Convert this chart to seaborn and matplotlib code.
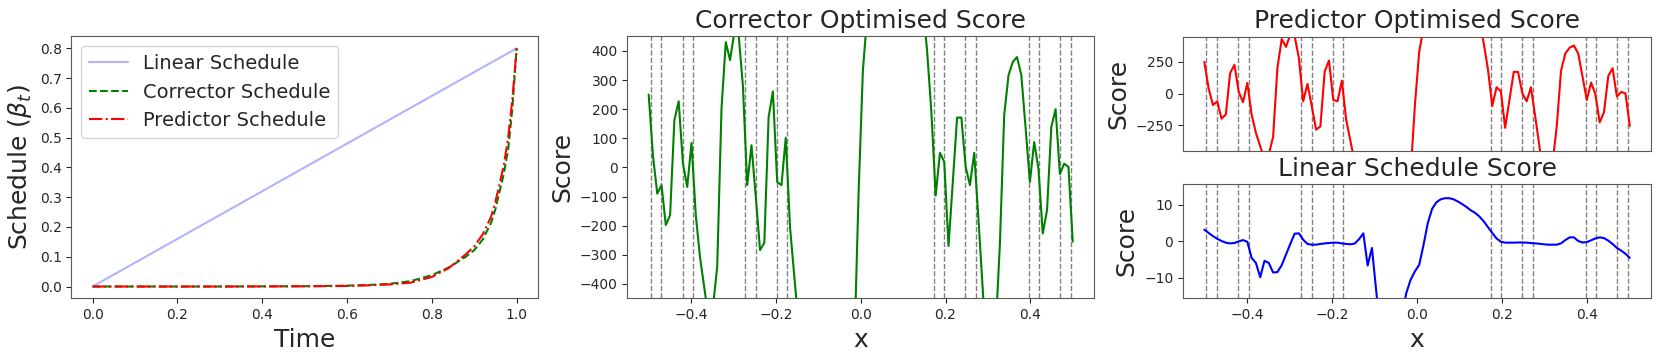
import numpy as np
import matplotlib
matplotlib.use("Agg")
import matplotlib.pyplot as plt
import seaborn as sns

# schedules
sched_time = [0.0, 0.1, 0.2, 0.3, 0.4, 0.5, 0.6, 0.65, 0.7, 0.75, 0.8, 0.84, 0.88,
              0.9, 0.92, 0.94, 0.95, 0.96, 0.97, 0.98, 0.99, 1.0]
corrector_sched = [0.0, 0.0, 0.0, 0.0, 0.0005, 0.001, 0.003, 0.005, 0.009, 0.018, 0.038,
                   0.064, 0.100, 0.122, 0.158, 0.215, 0.26, 0.32, 0.38, 0.46, 0.60, 0.8]
predictor_sched = [0.0, 0.0, 0.0, 0.0, 0.0004, 0.0008, 0.002, 0.004, 0.007, 0.013, 0.032,
                   0.062, 0.108, 0.135, 0.175, 0.235, 0.285, 0.345, 0.41, 0.50, 0.63, 0.8]
linear_time = [0.0, 1.0]
linear_sched = [0.0, 0.8]

# score evaluated on 100 points in [-0.5, 0.5]
xs = np.linspace(-0.5, 0.5, 100)
opt_score = [250, 40, -90, -61, -198, -164, 162, 227, 13, -67,
             84, -165, -310, -415, -520, -480, -341, 202, 430, 368,
             465, 455, 280, -61, 76, -100, -284, -259, 173, 261,
             -50, -61, 102, -205, -375, -540, -700, -850, -980, -1080,
             -1150, -1180, -1170, -1120, -1040, -930, -820, -720, -630, -90,
             330, 520, 700, 850, 980, 1080, 1140, 1160, 1140, 1080,
             1000, 900, 800, 680, 560, 400, 190, -97, 50, 19,
             -270, -50, 171, 171, 2, -61, 50, -181, -421, -670,
             -720, -560, -261, 179, 316, 362, 379, 316, 135, -50,
             87, -5, -227, -147, 139, 200, -23, 13, 2, -255]
corrector_score = opt_score
predictor_score = opt_score
linear_score = [3.2, 2.3, 1.45, 0.7, 0.1, -0.35, -0.55, -0.45, 0.0, 0.35,
                -0.1, -4.5, -5.9, -9.8, -5.3, -5.9, -8.5, -8.4, -6.5, -3.6,
                -0.7, 2.1, 2.2, 0.45, -0.7, -0.9, -0.9, -0.7, -0.55, -0.45,
                -0.35, -0.35, -0.55, -0.7, -0.8, -0.6, 0.6, 2.2, -6.6, -1.8,
                -13.6, -25, -30, -32, -30, -26, -20, -14.1, -10.5, -8.2,
                -6.4, -1.0, 5.0, 8.9, 10.7, 11.5, 11.8, 11.8, 11.5, 10.9,
                10.2, 9.4, 8.5, 7.8, 6.8, 5.5, 3.9, 2.3, 0.8, -0.1,
                -0.35, -0.35, -0.35, -0.3, -0.3, -0.35, -0.45, -0.55, -0.65, -0.8,
                -0.9, -0.9, -0.9, -0.55, 0.35, 1.1, 1.1, 0.1, -0.3, -0.2,
                0.3, 0.8, 1.1, 0.9, 0.2, -0.7, -1.8, -2.5, -3.4, -4.5]
# training points (dashed lines)
data_x = [-0.495, -0.47, -0.42, -0.396, -0.272, -0.247, -0.197, -0.173,
          0.173, 0.197, 0.247, 0.272, 0.396, 0.42, 0.47, 0.495]

sns.set_style("ticks")
plt.rcParams['font.family'] = ['DejaVu Sans']
plt.rcParams['xtick.labelsize'] = 10
plt.rcParams['ytick.labelsize'] = 10
lsize = 18

fig = plt.figure(figsize=(16.6, 3.6), dpi=100)
ax1 = fig.add_axes([0.043, 0.171, 0.281, 0.728])
ax2 = fig.add_axes([0.378, 0.171, 0.281, 0.728])
ax3 = fig.add_axes([0.7127, 0.5814, 0.2819, 0.3172])
ax4 = fig.add_axes([0.7127, 0.171, 0.2819, 0.317])

sns.lineplot(x=linear_time, y=linear_sched, ax=ax1, color='blue', alpha=0.3, label='Linear Schedule')
sns.lineplot(x=sched_time, y=corrector_sched, ax=ax1, color='green', linestyle='--', label='Corrector Schedule')
sns.lineplot(x=sched_time, y=predictor_sched, ax=ax1, color='red', linestyle='-.', label='Predictor Schedule')
ax1.legend(loc='upper left', fontsize=14, frameon=True)
ax1.set_xlabel('Time', fontsize=lsize)
ax1.set_ylabel(r'Schedule ($\beta_t$)', fontsize=lsize)

def score_panel(ax, y, col, title, ylim):
    for d in data_x:
        ax.axvline(d, color='grey', linestyle='--', linewidth=1)
    sns.lineplot(x=xs, y=y, ax=ax, color=col, linewidth=1.5)
    ax.set_ylim(ylim)
    ax.set_xlim(-0.55, 0.55)
    ax.set_title(title, fontsize=lsize)
    ax.set_ylabel('Score', fontsize=lsize)

score_panel(ax2, corrector_score, 'green', 'Corrector Optimised Score', (-450, 450))
ax2.set_yticks(np.arange(-400, 401, 100))
ax2.set_xlabel('x', fontsize=lsize)

score_panel(ax3, predictor_score, 'red', 'Predictor Optimised Score', (-450, 450))
ax3.set_yticks([-250, 0, 250])
ax3.set_xticks([])

score_panel(ax4, linear_score, 'blue', 'Linear Schedule Score', (-15.6, 15.6))
ax4.set_yticks([-10, 0, 10])
ax4.set_xticks([-0.4, -0.2, 0.0, 0.2, 0.4])
ax4.set_xlabel('x', fontsize=lsize)

for ax in [ax1, ax2, ax3, ax4]:
    for s in ax.spines.values():
        s.set_color('0.35')

fig.savefig('out.png', dpi=100)
